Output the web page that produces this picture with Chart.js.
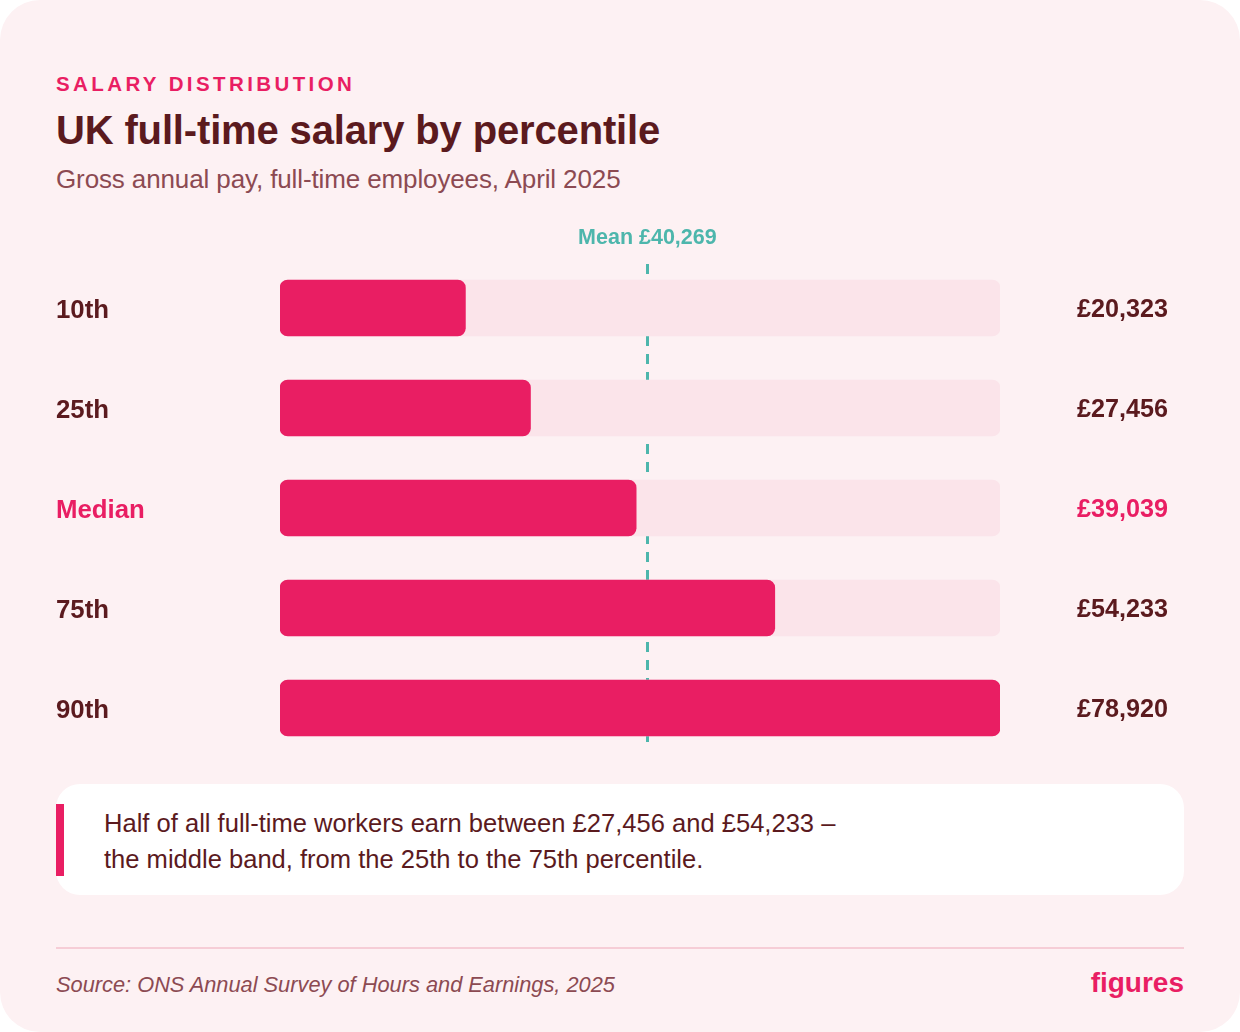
<!DOCTYPE html>
<html>
<head>
<meta charset="utf-8">
<script src="https://cdn.jsdelivr.net/npm/chart.js@4"></script>
<style>
  html, body { margin: 0; padding: 0; background: #ffffff; }
  body { width: 1240px; height: 1032px; position: relative; overflow: hidden; font-family: "Liberation Sans", Arial, sans-serif; }
  .card { position: absolute; left: 0; top: 0; width: 1240px; height: 1032px; background: #FDF1F3; border-radius: 40px; }
  .kicker { position: absolute; left: 56px; top: 72px; font-size: 20.5px; font-weight: bold; letter-spacing: 3.4px; color: #E91E63; line-height: 24px; }
  .title { position: absolute; left: 56px; top: 106px; font-size: 40px; font-weight: bold; color: #5B1A1E; line-height: 48px; letter-spacing: -0.15px; }
  .subtitle { position: absolute; left: 56px; top: 164px; font-size: 26px; color: #8C4A52; line-height: 30px; letter-spacing: -0.12px; }
  #wrap { position: absolute; left: 0; top: 220px; width: 1240px; height: 540px; }
  .callout { position: absolute; left: 56px; top: 784px; width: 1128px; height: 111px; background: #ffffff; border-radius: 24px; }
  .callbar { position: absolute; left: 56px; top: 804px; width: 8px; height: 72px; background: #E91E63; }
  .calltext { position: absolute; left: 104px; top: 805px; font-size: 25.55px; color: #5B1A1E; line-height: 36px; }
  .divider { position: absolute; left: 56px; top: 947px; width: 1128px; height: 2px; background: #F6CDD6; }
  .source { position: absolute; left: 56px; top: 972px; font-size: 21.8px; font-style: italic; color: #8C4A52; line-height: 26px; }
  .brand { position: absolute; right: 56px; top: 967px; font-size: 28px; font-weight: bold; color: #E91E63; line-height: 32px; }
</style>
</head>
<body>
<div class="card"></div>
<div class="kicker">SALARY DISTRIBUTION</div>
<div class="title">UK full-time salary by percentile</div>
<div class="subtitle">Gross annual pay, full-time employees, April 2025</div>
<div id="wrap"><canvas id="c" width="1240" height="540"></canvas></div>
<div class="callout"></div>
<div class="callbar"></div>
<div class="calltext">Half of all full-time workers earn between £27,456 and £54,233 –<br>the middle band, from the 25th to the 75th percentile.</div>
<div class="divider"></div>
<div class="source">Source: ONS Annual Survey of Hours and Earnings, 2025</div>
<div class="brand">figures</div>
<script>
// ---- data ----
const categories = ["10th", "25th", "Median", "75th", "90th"];
const salaries = [20323, 27456, 39039, 54233, 78920];
const valueLabels = ["£20,323", "£27,456", "£39,039", "£54,233", "£78,920"];
const meanSalary = 40269;
const meanLabel = "Mean £40,269";
const highlightCategory = "Median";

const PINK = "#E91E63", TRACK = "#FBE4EA", MAROON = "#5B1A1E", TEAL = "#4DB6AC";
const scaleMax = Math.max(...salaries);
const trackValues = categories.map(() => scaleMax);

const overlay = {
  id: "overlay",
  beforeDatasetsDraw(chart) {
    const { ctx, scales: { x } } = chart;
    const px = Math.round(x.getPixelForValue(meanSalary)) + 0.5;
    ctx.save();
    ctx.strokeStyle = TEAL;
    ctx.lineWidth = 3;
    ctx.setLineDash([10, 8]);
    ctx.beginPath();
    ctx.moveTo(px, 44);
    ctx.lineTo(px, 522);
    ctx.stroke();
    ctx.restore();
  },
  afterDatasetsDraw(chart) {
    const { ctx, scales: { x, y } } = chart;
    ctx.save();
    ctx.textBaseline = "middle";
    ctx.font = "bold 21.5px 'Liberation Sans', Arial, sans-serif";
    ctx.fillStyle = TEAL;
    ctx.textAlign = "center";
    ctx.fillText(meanLabel, x.getPixelForValue(meanSalary), 18);
    categories.forEach((cat, i) => {
      const py = y.getPixelForValue(i) + 2.5;
      ctx.fillStyle = cat === highlightCategory ? PINK : MAROON;
      ctx.textAlign = "left";
      ctx.font = "bold 25.8px 'Liberation Sans', Arial, sans-serif";
      ctx.fillText(cat, 56, py);
      ctx.textAlign = "right";
      ctx.font = "bold 25.2px 'Liberation Sans', Arial, sans-serif";
      ctx.fillText(valueLabels[i], 1168, py);
    });
    ctx.restore();
  }
};

new Chart(document.getElementById("c"), {
  type: "bar",
  data: {
    labels: categories,
    datasets: [
      { data: salaries, backgroundColor: PINK, borderRadius: 8, borderSkipped: false, barThickness: 56, grouped: false, order: 0 },
      { data: trackValues, backgroundColor: TRACK, borderRadius: 8, borderSkipped: false, barThickness: 56, grouped: false, order: 1 }
    ]
  },
  options: {
    indexAxis: "y",
    responsive: false,
    animation: false,
    devicePixelRatio: 1,
    layout: { padding: { left: 280, right: 240, top: 38, bottom: 2 } },
    scales: {
      x: { display: false, min: 0, max: scaleMax },
      y: { display: false }
    },
    plugins: { legend: { display: false }, tooltip: { enabled: false } }
  },
  plugins: [overlay]
});
</script>
</body>
</html>
